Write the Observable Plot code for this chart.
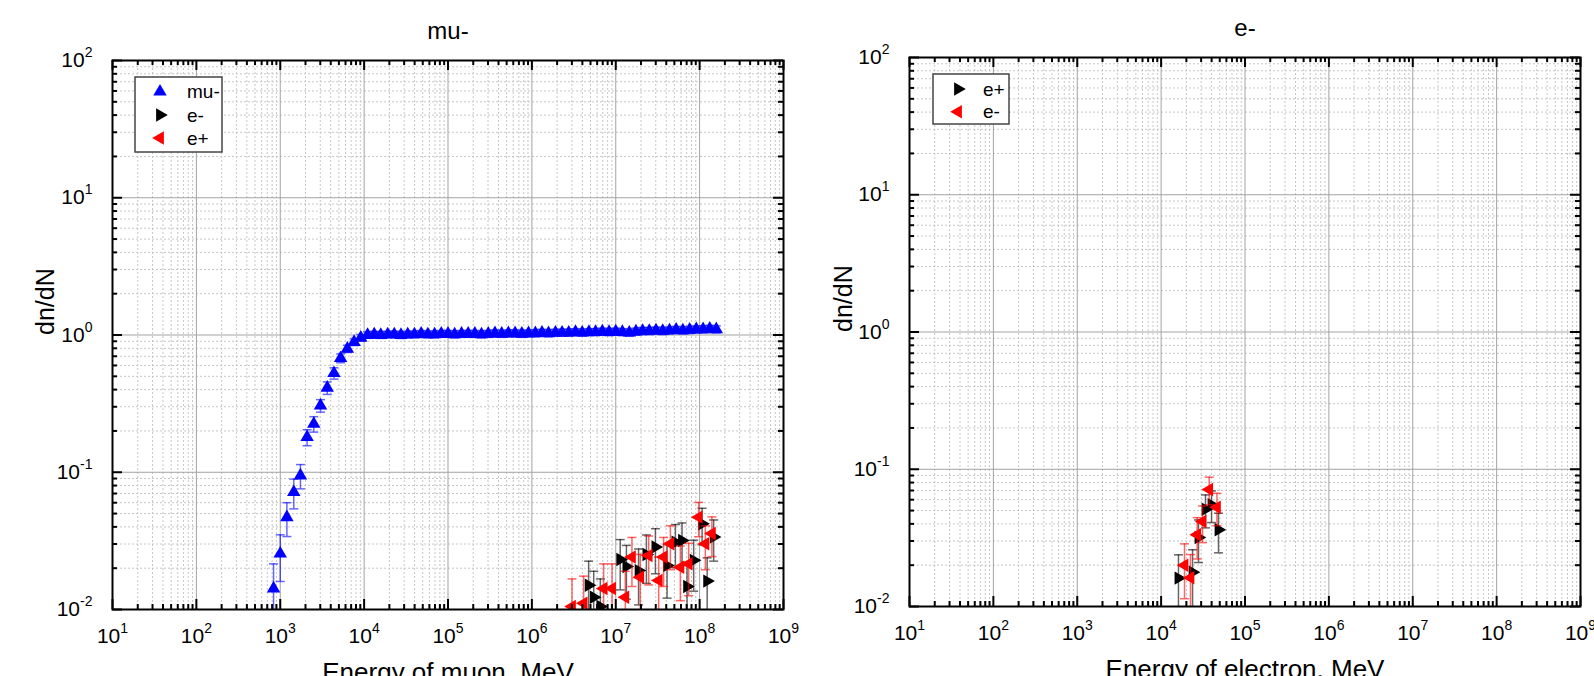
<!DOCTYPE html>
<html><head><meta charset="utf-8">
<script src="https://cdn.jsdelivr.net/npm/d3@7"></script>
<script src="https://cdn.jsdelivr.net/npm/@observablehq/plot@0.6"></script>
<style>
html,body{margin:0;padding:0;background:#fff;overflow:hidden;width:1594px;height:676px}
.panel{position:absolute;top:0;width:797px;height:676px}
.panel svg{overflow:visible}
.legend{position:absolute;left:0;top:0;overflow:visible}
</style></head><body>
<div id="left" class="panel" style="left:0"></div>
<div id="right" class="panel" style="left:797px"></div>
<script>
// ---------- data ----------
// left panel: mu- (blue, triangle up)
const muE = [8.32e2,1.00e3,1.20e3,1.45e3,1.74e3,2.09e3,2.51e3,3.02e3,3.63e3,4.37e3,5.25e3,6.31e3,7.59e3,9.12e3,
 1.10e4,1.32e4,1.58e4,1.91e4,2.29e4,2.75e4,3.31e4,3.98e4,4.79e4,5.75e4,6.92e4,8.32e4,
 1.00e5,1.20e5,1.45e5,1.74e5,2.09e5,2.51e5,3.02e5,3.63e5,4.37e5,5.25e5,6.31e5,7.59e5,9.12e5,
 1.10e6,1.32e6,1.58e6,1.91e6,2.29e6,2.75e6,3.31e6,3.98e6,4.79e6,5.75e6,6.92e6,8.32e6,
 1.00e7,1.20e7,1.45e7,1.74e7,2.09e7,2.51e7,3.02e7,3.63e7,4.37e7,5.25e7,6.31e7,7.59e7,9.12e7,
 1.10e8,1.32e8,1.58e8];
const muV = [0.0142,0.0255,0.047,0.0716,0.0947,0.180,0.225,0.306,0.412,0.527,0.678,0.794,0.887,0.955,
 1.00,1.01,1.00,1.01,1.01,1.00,1.01,1.01,1.02,1.01,1.01,1.02,
 1.02,1.01,1.02,1.02,1.02,1.01,1.02,1.03,1.02,1.03,1.03,1.02,1.03,
 1.03,1.04,1.03,1.04,1.04,1.04,1.05,1.04,1.05,1.05,1.06,1.05,
 1.06,1.05,1.04,1.06,1.07,1.07,1.08,1.07,1.08,1.09,1.08,1.09,1.10,
 1.10,1.11,1.10];
const muErr = [0.0073,0.0095,0.013,0.0175,0.019,0.024,0.029,0.032,0.043,0.05,0.05,0.048,0.05,0.052,
 0.055,0.054,0.056,0.055,0.056,0.057,0.056,0.057,0.058,0.057,0.058,0.058,
 0.058,0.059,0.058,0.059,0.059,0.058,0.059,0.06,0.059,0.06,0.06,0.059,0.06,
 0.06,0.061,0.06,0.061,0.061,0.061,0.062,0.061,0.062,0.062,0.063,0.062,
 0.063,0.062,0.062,0.063,0.064,0.064,0.064,0.064,0.065,0.065,0.065,0.065,0.066,
 0.066,0.067,0.066];
// left panel: e- (black, triangle right)
const eMinusLE = [4.75e6,5.46e6,6.55e6,1.13e7,1.34e7,1.87e7,2.32e7,2.97e7,4.09e7,5.14e7,6.17e7,7.08e7,8.49e7,1.07e8,1.23e8,1.47e8];
const eMinusLV = [0.0150,0.0123,0.0105,0.0231,0.0206,0.0192,0.0252,0.0285,0.0209,0.0309,0.0318,0.0147,0.0228,0.0421,0.0161,0.0337];
const eMinusLErr = [0.0075,0.0067,0.0062,0.0092,0.0087,0.0084,0.0097,0.0103,0.0088,0.0107,0.0109,0.0074,0.0092,0.0125,0.0077,0.0112];
// left panel: e+ (red, triangle left)
const ePlusLE = [3.01e6,4.14e6,7.17e6,9.04e6,1.30e7,1.56e7,1.96e7,2.47e7,3.25e7,3.72e7,4.48e7,5.89e7,7.40e7,9.73e7,1.17e8,1.40e8];
const ePlusLV = [0.0105,0.0111,0.0142,0.0142,0.0123,0.0241,0.0172,0.0247,0.0163,0.0241,0.0301,0.0203,0.0215,0.0471,0.0301,0.0358];
const ePlusLErr = [0.0062,0.0064,0.0073,0.0073,0.0067,0.0094,0.0080,0.0096,0.0078,0.0094,0.0106,0.0087,0.0089,0.0132,0.0106,0.0115];
// right panel: e+ (black, triangle right)
const ePlusRE = [1.61e4,2.37e4,2.79e4,3.38e4,3.99e4,4.83e4];
const ePlusRV = [0.0161,0.0178,0.0318,0.0512,0.0552,0.0362];
const ePlusRErr = [0.0077,0.0081,0.0109,0.0138,0.0143,0.0116];
// right panel: e- (red, triangle left)
const eMinusRE = [1.90e4,2.24e4,2.69e4,3.12e4,3.74e4,4.63e4];
const eMinusRV = [0.0200,0.0162,0.0333,0.0416,0.0713,0.0528];
const eMinusRErr = [0.0086,0.0077,0.0111,0.0124,0.0162,0.0140];

// axes
const xMajor = [1e1,1e2,1e3,1e4,1e5,1e6,1e7,1e8,1e9];
const yMajor = [1e-2,1e-1,1e0,1e1,1e2];
const xExp = ["1","2","3","4","5","6","7","8","9"];
const yExp = ["-2","-1","0","1","2"];
const minorOf = (majors) => majors.slice(0,-1).flatMap(m => [2,3,4,5,6,7,8,9].map(k => k*m));
const xMinor = minorOf(xMajor), yMinor = minorOf(yMajor);

// ---------- symbols ----------
const SQ3 = Math.sqrt(3);
const yt = s => -Math.sqrt(s/(SQ3*3));
const triUp = {draw(c,s){const y=yt(s); c.moveTo(0,2*y); c.lineTo(-SQ3*y,-y); c.lineTo(SQ3*y,-y); c.closePath();}};
const triRight = {draw(c,s){const y=yt(s); c.moveTo(-2*y,0); c.lineTo(y,-SQ3*y); c.lineTo(y,SQ3*y); c.closePath();}};
const triLeft = {draw(c,s){const y=yt(s); c.moveTo(2*y,0); c.lineTo(-y,-SQ3*y); c.lineTo(-y,SQ3*y); c.closePath();}};
const cap = {draw(c,s){c.moveTo(-4.5,0); c.lineTo(4.5,0);}};

const rows = (E,V,Err) => E.map((e,i)=>({e, v:V[i], hi:V[i]+Err[i], lo:Math.max(V[i]-Err[i],1e-4)}));

function seriesMarks(data, color, sym, op){
  const bar = {stroke:color, strokeOpacity:op, strokeWidth:1.5, clip:true};
  return [
    Plot.ruleX(data, {x:"e", y1:"lo", y2:"hi", ...bar}),
    Plot.dot(data, {x:"e", y:"hi", symbol:cap, r:3, fill:"none", ...bar}),
    Plot.dot(data, {x:"e", y:"lo", symbol:cap, r:3, fill:"none", ...bar}),
    Plot.dot(data, {x:"e", y:"v", symbol:sym, r:5, fill:color, stroke:"none", clip:true})
  ];
}

const MARK = "\u00a7"; // marker for superscript post-processing

function panel(el, mt, mb, title, xlabel, series, ylabDx){
  const W=797, H=676, ml=112, mr=14;
  const iw=W-ml-mr, ih=H-mt-mb;
  const grid = {stroke:"#c6c6c6", strokeDasharray:"2,2", strokeWidth:1};
  const major = {stroke:"#a3a3a3", strokeWidth:1};
  const tk = {stroke:"black", strokeWidth:2};
  const svg = Plot.plot({
    width:W, height:H, marginLeft:ml, marginRight:mr, marginTop:mt, marginBottom:mb,
    style:{fontFamily:"'Liberation Sans', Arial, sans-serif", background:"transparent", color:"black", overflow:"visible"},
    x:{type:"log", domain:[1e1,1e9], axis:null},
    y:{type:"log", domain:[1e-2,1e2], axis:null},
    marks:[
      Plot.ruleX(xMinor, grid),
      Plot.ruleY(yMinor, grid),
      Plot.ruleX(xMajor, major),
      Plot.ruleY(yMajor, major),
      ...series,
      // inward ticks on all four sides
      Plot.tickX(xMinor, {x:d=>d, insetTop:ih-5, ...tk}),
      Plot.tickX(xMajor, {x:d=>d, insetTop:ih-10, ...tk}),
      Plot.tickX(xMinor, {x:d=>d, insetBottom:ih-5, ...tk}),
      Plot.tickX(xMajor, {x:d=>d, insetBottom:ih-10, ...tk}),
      Plot.tickY(yMinor, {y:d=>d, insetRight:iw-5, ...tk}),
      Plot.tickY(yMajor, {y:d=>d, insetRight:iw-10, ...tk}),
      Plot.tickY(yMinor, {y:d=>d, insetLeft:iw-5, ...tk}),
      Plot.tickY(yMajor, {y:d=>d, insetLeft:iw-10, ...tk}),
      Plot.frame({stroke:"black", strokeWidth:2}),
      Plot.text(xMajor, {x:d=>d, text:(d,i)=>MARK+xExp[i], frameAnchor:"bottom", dy:33, lineAnchor:"bottom", fontSize:21}),
      Plot.text(yMajor, {y:d=>d, text:(d,i)=>MARK+yExp[i], frameAnchor:"left", dx:-20, textAnchor:"end", fontSize:21}),
      Plot.text([title], {text:d=>d, frameAnchor:"top", dy:-22, lineAnchor:"bottom", fontSize:24}),
      Plot.text([xlabel], {text:d=>d, frameAnchor:"bottom", dy:71, lineAnchor:"bottom", fontSize:26}),
      Plot.text(["dn/dN"], {text:d=>d, frameAnchor:"left", dx:ylabDx, rotate:-90, fontSize:25})
    ]
  });
  d3.select(svg).selectAll("text").each(function(){
    const s = this.textContent;
    if (!s || s[0] !== MARK) return;
    const e = s.slice(1);
    while (this.firstChild) this.removeChild(this.firstChild);
    this.appendChild(document.createTextNode("10"));
    const ts = document.createElementNS("http://www.w3.org/2000/svg","tspan");
    ts.setAttribute("font-size","14");
    ts.setAttribute("dy","-10");
    ts.textContent = e;
    this.appendChild(ts);
  });
  document.getElementById(el).appendChild(svg);
}

panel("left", 60, 67, "mu-", "Energy of muon, MeV", [
  ...seriesMarks(rows(muE,muV,muErr), "#0000ff", triUp, 0.6),
  ...seriesMarks(rows(eMinusLE,eMinusLV,eMinusLErr), "#000000", triRight, 0.6),
  ...seriesMarks(rows(ePlusLE,ePlusLV,ePlusLErr), "#ff0000", triLeft, 0.6)
], -67);

panel("right", 57, 70, "e-", "Energy of electron, MeV", [
  ...seriesMarks(rows(ePlusRE,ePlusRV,ePlusRErr), "#000000", triRight, 0.6),
  ...seriesMarks(rows(eMinusRE,eMinusRV,eMinusRErr), "#ff0000", triLeft, 0.6)
], -66);

// ---------- legends ----------
function legend(box, rowsY, mx, tx, items){
  const svg = d3.select("body").append("svg").attr("class","legend")
    .attr("width",1594).attr("height",676)
    .style("position","absolute").style("left","0px").style("top","0px");
  svg.append("rect").attr("x",box[0]).attr("y",box[1]).attr("width",box[2]).attr("height",box[3])
    .attr("fill","white").attr("stroke","#444").attr("stroke-width",1.5);
  items.forEach((it,i)=>{
    svg.append("path").attr("transform",`translate(${mx},${rowsY[i]})`)
      .attr("d", d3.symbol().type(it.sym).size(78.5)()).attr("fill", it.color);
    svg.append("text").attr("x",tx).attr("y",rowsY[i]).attr("dy","0.35em")
      .attr("font-family","'Liberation Sans', Arial, sans-serif").attr("font-size",19)
      .attr("fill","black").text(it.label);
  });
}
const legLeftLabels = ["mu-","e-","e+"];
const legRightLabels = ["e+","e-"];
legend([135,77,87,75],[91.7,115,138],160,187,[
  {label:legLeftLabels[0], color:"#0000ff", sym:triUp},
  {label:legLeftLabels[1], color:"#000000", sym:triRight},
  {label:legLeftLabels[2], color:"#ff0000", sym:triLeft}]);
legend([933,74,76,50],[89,111.7],958,983,[
  {label:legRightLabels[0], color:"#000000", sym:triRight},
  {label:legRightLabels[1], color:"#ff0000", sym:triLeft}]);
</script>
</body></html>
